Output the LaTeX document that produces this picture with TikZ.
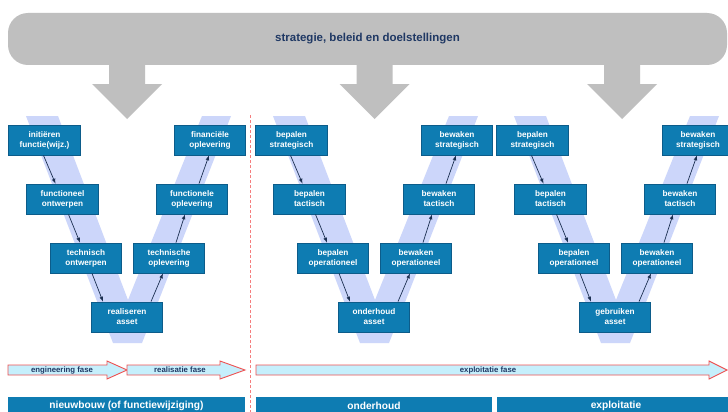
\documentclass[tikz,border=0pt]{standalone}
\usepackage{fontspec}
\setmainfont{Liberation Sans}
\usepackage{xcolor}
\definecolor{stapblauw}{RGB}{14,124,178}
\definecolor{staprand}{RGB}{12,92,138}
\definecolor{vlicht}{RGB}{204,214,250}
\definecolor{grijs}{RGB}{191,191,191}
\definecolor{donkerblauw}{RGB}{31,56,100}
\definecolor{pijlkleur}{RGB}{28,48,82}
\definecolor{fasevul}{RGB}{198,239,252}
\definecolor{faserand}{RGB}{238,82,82}
\definecolor{scheiding}{RGB}{245,125,125}

\begin{document}
\begin{tikzpicture}[x=1pt,y=-1pt,
    stap/.style={draw=staprand,fill=stapblauw,text=white,line width=0.8pt,minimum width=71.5pt,minimum height=30pt,inner sep=1pt,align=center,font=\bfseries\fontsize{8.2}{10}\selectfont},
    balk/.style={fill=stapblauw,text=white,minimum height=18pt,inner sep=0pt,font=\bfseries\fontsize{10.2}{12}\selectfont},
    pijl/.style={draw=pijlkleur,line width=0.7pt,-latex},
    fase/.style={draw=faserand,fill=fasevul,line width=0.9pt},
    fasetekst/.style={text=donkerblauw,inner sep=0pt,font=\bfseries\fontsize{7.8}{9}\selectfont}]
                \useasboundingbox (0,0) rectangle (728,412);
                \fill[white] (0,0) rectangle (728,412);
                \clip (0,0) rectangle (728,412);

                \fill[vlicht] (26,116) -- (58,116) -- (128,300) -- (202,116) -- (231,116) -- (142,343) -- (113,343) -- cycle;
                \fill[vlicht] (273,116) -- (305,116) -- (375,300) -- (449,116) -- (478,116) -- (389,343) -- (360,343) -- cycle;
                \fill[vlicht] (514,116) -- (546,116) -- (616,300) -- (690,116) -- (719,116) -- (630,343) -- (601,343) -- cycle;

                \node[fill=grijs,rounded corners=20pt,minimum width=719pt,minimum height=52pt,text=donkerblauw,font=\bfseries\fontsize{11.5}{13}\selectfont] (doelen) at (367.5,39) {strategie, beleid en doelstellingen};
                \fill[grijs] (109,60) -- (145,60) -- (145,84) -- (162,84) -- (127,119) -- (92,84) -- (109,84) -- cycle;
                \fill[grijs] (356.5,60) -- (392.5,60) -- (392.5,84) -- (409.5,84) -- (374.5,119) -- (339.5,84) -- (356.5,84) -- cycle;
                \fill[grijs] (604,60) -- (640,60) -- (640,84) -- (657,84) -- (622,119) -- (587,84) -- (604,84) -- cycle;

                \draw[scheiding,dashed,dash pattern=on 3pt off 2pt,line width=0.8pt] (250,115) -- (250,412);

                \node[stap] (n1) at (44.5,140) {initiëren\\functie(wijz.)};
                \node[stap] (n2) at (62.5,199) {functioneel\\ontwerpen};
                \node[stap] (n3) at (86,258) {technisch\\ontwerpen};
                \node[stap] (n4) at (127,317) {realiseren\\asset};
                \node[stap] (n5) at (169,258) {technische\\oplevering};
                \node[stap] (n6) at (192,199) {functionele\\oplevering};
                \node[stap] (n7) at (210,140) {financiële\\oplevering};

                \node[stap] (o1) at (291.5,140) {bepalen\\strategisch};
                \node[stap] (o2) at (309.5,199) {bepalen\\tactisch};
                \node[stap] (o3) at (333,258) {bepalen\\operationeel};
                \node[stap] (o4) at (374,317) {onderhoud\\asset};
                \node[stap] (o5) at (416,258) {bewaken\\operationeel};
                \node[stap] (o6) at (439,199) {bewaken\\tactisch};
                \node[stap] (o7) at (457,140) {bewaken\\strategisch};

                \node[stap] (e1) at (532.5,140) {bepalen\\strategisch};
                \node[stap] (e2) at (550.5,199) {bepalen\\tactisch};
                \node[stap] (e3) at (574,258) {bepalen\\operationeel};
                \node[stap] (e4) at (615,317) {gebruiken\\asset};
                \node[stap] (e5) at (657,258) {bewaken\\operationeel};
                \node[stap] (e6) at (680,199) {bewaken\\tactisch};
                \node[stap] (e7) at (698,140) {bewaken\\strategisch};

                \draw[pijl] ([xshift=-1pt]n1.south) -- ([xshift=-7pt]n2.north);
                \draw[pijl] ([xshift=6pt]n2.south) -- ([xshift=-6pt]n3.north);
                \draw[pijl] ([xshift=6pt]n3.south) -- ([xshift=-24pt]n4.north);
                \draw[pijl] ([xshift=24pt]n4.north) -- ([xshift=-6pt]n5.south);
                \draw[pijl] ([xshift=7pt]n5.north) -- ([xshift=-7pt]n6.south);
                \draw[pijl] ([xshift=7pt]n6.north) -- ([xshift=-1pt]n7.south);

                \draw[pijl] ([xshift=-1pt]o1.south) -- ([xshift=-7pt]o2.north);
                \draw[pijl] ([xshift=6pt]o2.south) -- ([xshift=-6pt]o3.north);
                \draw[pijl] ([xshift=6pt]o3.south) -- ([xshift=-24pt]o4.north);
                \draw[pijl] ([xshift=24pt]o4.north) -- ([xshift=-6pt]o5.south);
                \draw[pijl] ([xshift=7pt]o5.north) -- ([xshift=-7pt]o6.south);
                \draw[pijl] ([xshift=7pt]o6.north) -- ([xshift=-1pt]o7.south);

                \draw[pijl] ([xshift=-1pt]e1.south) -- ([xshift=-7pt]e2.north);
                \draw[pijl] ([xshift=6pt]e2.south) -- ([xshift=-6pt]e3.north);
                \draw[pijl] ([xshift=6pt]e3.south) -- ([xshift=-24pt]e4.north);
                \draw[pijl] ([xshift=24pt]e4.north) -- ([xshift=-6pt]e5.south);
                \draw[pijl] ([xshift=7pt]e5.north) -- ([xshift=-7pt]e6.south);
                \draw[pijl] ([xshift=7pt]e6.north) -- ([xshift=-1pt]e7.south);

                \draw[fase] (8,365) -- (107,365) -- (107,361) -- (127,370) -- (107,379) -- (107,375) -- (8,375) -- cycle;
                \draw[fase] (127,365) -- (220,365) -- (220,361) -- (245,370) -- (220,379) -- (220,375) -- (127,375) -- cycle;
                \draw[fase] (256,365) -- (709,365) -- (709,361) -- (727,370) -- (709,379) -- (709,375) -- (256,375) -- cycle;
                \node[fasetekst] (engineering) at (62,370) {engineering fase};
                \node[fasetekst] (realisatie) at (180,370) {realisatie fase};
                \node[fasetekst] (exploitatiefase) at (488,370) {exploitatie fase};

                \node[balk,minimum width=237pt] (nieuwbouw) at (126.5,406) {nieuwbouw (of functiewijziging)};
                \node[balk,minimum width=236pt] (onderhoud) at (374,406) {onderhoud};
                \node[balk,minimum width=238pt] (exploitatie) at (616,406) {exploitatie};
            \end{tikzpicture}
\end{document}
